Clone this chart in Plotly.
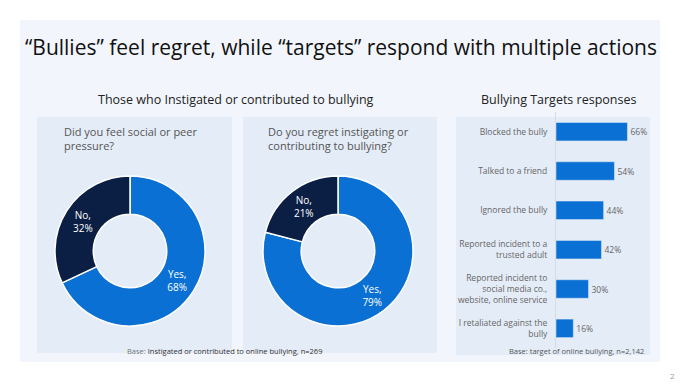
import plotly.graph_objects as go

W, H = 684, 385

# ---- data ----
pie1_labels = ["Yes", "No"]
pie1_values = [68, 32]
pie2_labels = ["Yes", "No"]
pie2_values = [79, 21]
bar_categories = [
    "Blocked the bully",
    "Talked to a friend",
    "Ignored the bully",
    "Reported incident to a<br>trusted adult",
    "Reported incident to<br>social media co.,<br>website, online service",
    "I retaliated against the<br>bully",
]
bar_values = [66, 54, 44, 42, 30, 16]

title_text = "“Bullies” feel regret, while “targets” respond with multiple actions"
sub_left = "Those who Instigated or contributed to bullying"
sub_right = "Bullying Targets responses"
q1 = "Did you feel social or peer<br>pressure?"
q2 = "Do you regret instigating or<br>contributing to bullying?"
base_left = "<span style='color:#777'>Base:</span> Instigated or contributed to online bullying, n=269"
base_right = "Base: target of online bullying, n=2,142"

BLUE = "#0a70d3"
NAVY = "#0b1f45"
FONT = "Open Sans"

def px(x):
    return x / W

def py(y):
    return 1 - y / H

fig = go.Figure()

def add_pie(labels, values, cx, cy, r):
    fig.add_trace(go.Pie(
        labels=labels, values=values, hole=0.49, sort=False,
        direction="clockwise", rotation=0,
        marker=dict(colors=[BLUE, NAVY], line=dict(color="white", width=1.5)),
        texttemplate="%{label},<br>%{percent:.0%}",
        textposition="inside", insidetextorientation="horizontal",
        textfont=dict(color="white", size=10, family=FONT),
        domain=dict(x=[px(cx - r), px(cx + r)], y=[py(cy + r), py(cy - r)]),
        showlegend=False, hoverinfo="label+percent",
    ))

add_pie(pie1_labels, pie1_values, 130, 251, 75)
add_pie(pie2_labels, pie2_values, 338, 251, 75)

fig.add_trace(go.Bar(
    x=bar_values, y=bar_categories, orientation="h",
    marker=dict(color=BLUE), width=0.47,
    text=[f"{v}%" for v in bar_values], textposition="outside",
    textfont=dict(size=8.5, color="#666", family=FONT),
    cliponaxis=False, showlegend=False, xaxis="x", yaxis="y",
))

fig.update_layout(
    width=W, height=H,
    margin=dict(l=0, r=0, t=0, b=0),
    paper_bgcolor="white", plot_bgcolor="rgba(0,0,0,0)",
    font=dict(family=FONT, color="#222"),
    xaxis=dict(domain=[px(556), px(648)], range=[0, 85], visible=False, fixedrange=True),
    yaxis=dict(domain=[py(348), py(112)], autorange="reversed",
               showline=True, linecolor="#d6dce4", linewidth=1,
               ticks="", showgrid=False,
               tickfont=dict(size=8.5, color="#666", family=FONT), ticklabelstandoff=6),
    shapes=[
        dict(type="rect", xref="paper", yref="paper", x0=px(20), x1=px(660), y0=py(362), y1=py(20),
             fillcolor="#f2f6fc", line=dict(width=0), layer="below"),
        dict(type="rect", xref="paper", yref="paper", x0=px(37), x1=px(232), y0=py(353), y1=py(117),
             fillcolor="#e4ecf7", line=dict(width=0), layer="below"),
        dict(type="rect", xref="paper", yref="paper", x0=px(243), x1=px(437), y0=py(353), y1=py(117),
             fillcolor="#e4ecf7", line=dict(width=0), layer="below"),
        dict(type="rect", xref="paper", yref="paper", x0=px(456), x1=px(650), y0=py(355), y1=py(117),
             fillcolor="#e4ecf7", line=dict(width=0), layer="below"),
    ],
    annotations=[
        dict(text=title_text, x=px(341), y=py(47), xref="paper", yref="paper", showarrow=False,
             font=dict(size=21, color="#111", family=FONT), xanchor="center", yanchor="middle"),
        dict(text=sub_left, x=px(236), y=py(100), xref="paper", yref="paper", showarrow=False,
             font=dict(size=12.5, color="#222", family=FONT), xanchor="center", yanchor="middle"),
        dict(text=sub_right, x=px(558), y=py(100), xref="paper", yref="paper", showarrow=False,
             font=dict(size=12.5, color="#222", family=FONT), xanchor="center", yanchor="middle"),
        dict(text=q1, x=px(62), y=py(122), xref="paper", yref="paper", showarrow=False, align="left",
             font=dict(size=11, color="#555", family=FONT), xanchor="left", yanchor="top"),
        dict(text=q2, x=px(266), y=py(122), xref="paper", yref="paper", showarrow=False, align="left",
             font=dict(size=11, color="#555", family=FONT), xanchor="left", yanchor="top"),
        dict(text=base_left, x=px(224), y=py(351), xref="paper", yref="paper", showarrow=False,
             font=dict(size=7.5, color="#333", family=FONT), xanchor="center", yanchor="middle"),
        dict(text=base_right, x=px(576), y=py(351), xref="paper", yref="paper", showarrow=False,
             font=dict(size=7.5, color="#555", family=FONT), xanchor="center", yanchor="middle"),
        dict(text="2", x=px(672), y=py(375), xref="paper", yref="paper", showarrow=False,
             font=dict(size=8, color="#999", family=FONT), xanchor="center", yanchor="middle"),
    ],
)

fig.write_html("out.html", config={"displayModeBar": False},
               post_script="document.body.style.margin='0';")
